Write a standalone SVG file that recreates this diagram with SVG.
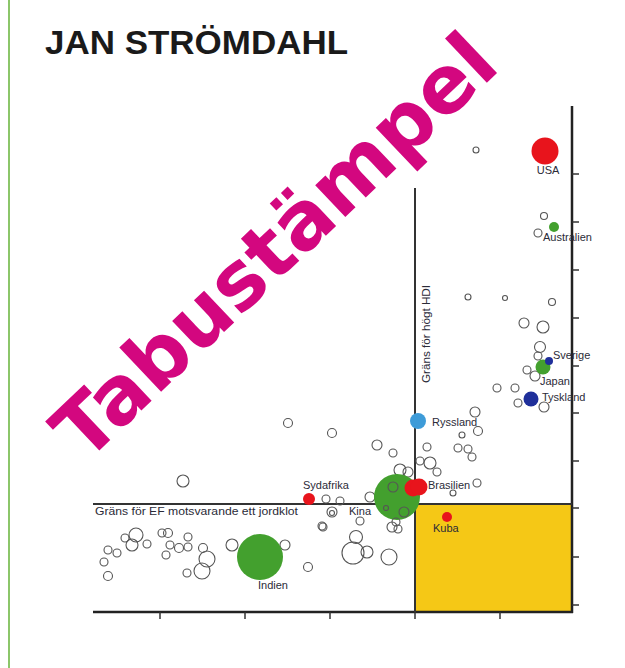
<svg xmlns="http://www.w3.org/2000/svg" width="625" height="668" viewBox="0 0 625 668">
<style>
.o{fill:none;stroke:#555;stroke-width:1.1}
.lbl{font-family:"Liberation Sans",Arial,sans-serif;font-size:11px;fill:#2b2b38}
.ax{stroke:#222;stroke-width:2.5;fill:none}
.tk{stroke:#333;stroke-width:1.5}
.red{fill:#e8141c}
.grn{fill:#43a02e}
</style>
<rect width="625" height="668" fill="#fff"/>
<line x1="9" y1="0" x2="9" y2="668" stroke="#8cc66a" stroke-width="2"/>
<text x="45" y="54" font-family="Liberation Sans,Arial,sans-serif" font-weight="bold" font-size="33" fill="#1a1a1a" textLength="303" lengthAdjust="spacingAndGlyphs">JAN STRÖMDAHL</text>

<g id="chart-frame">
<rect id="zone" x="415" y="504" width="157" height="108" fill="#f5c816" stroke="#333" stroke-width="2"/>
<line class="ax" x1="572" y1="106" x2="572" y2="613"/>
<line class="ax" x1="93" y1="612" x2="573" y2="612"/>
<line x1="415" y1="188" x2="415" y2="612" stroke="#333" stroke-width="2"/>
<line x1="93" y1="504" x2="572" y2="504" stroke="#333" stroke-width="2"/>
<g class="tk">
<line x1="160" y1="612" x2="160" y2="619"/><line x1="245" y1="612" x2="245" y2="619"/><line x1="330" y1="612" x2="330" y2="619"/><line x1="415" y1="612" x2="415" y2="619"/><line x1="500" y1="612" x2="500" y2="619"/>
<line x1="572" y1="174" x2="579" y2="174"/><line x1="572" y1="222" x2="579" y2="222"/><line x1="572" y1="270" x2="579" y2="270"/><line x1="572" y1="318" x2="579" y2="318"/><line x1="572" y1="366" x2="579" y2="366"/><line x1="572" y1="413" x2="579" y2="413"/><line x1="572" y1="461" x2="579" y2="461"/><line x1="572" y1="508" x2="579" y2="508"/><line x1="572" y1="557" x2="579" y2="557"/><line x1="572" y1="605" x2="579" y2="605"/>
</g>
<text class="lbl" x="95" y="515" font-size="12" textLength="203" lengthAdjust="spacingAndGlyphs">Gräns för EF motsvarande ett jordklot</text>
<text class="lbl" transform="translate(430,383) rotate(-90)" x="0" y="0" textLength="98" lengthAdjust="spacingAndGlyphs">Gräns för högt HDI</text>
</g>

<g id="others">
<circle class="o" cx="476" cy="150" r="3"/><circle class="o" cx="544" cy="216" r="3.5"/><circle class="o" cx="538" cy="233" r="4"/>
<circle class="o" cx="468" cy="297" r="3"/><circle class="o" cx="505" cy="298" r="2.5"/><circle class="o" cx="552" cy="302" r="3.5"/>
<circle class="o" cx="524" cy="323" r="5"/><circle class="o" cx="543" cy="327" r="6"/><circle class="o" cx="540" cy="347" r="5.5"/>
<circle class="o" cx="538" cy="356" r="4"/><circle class="o" cx="527" cy="370" r="4"/><circle class="o" cx="535" cy="376" r="5"/>
<circle class="o" cx="497" cy="388" r="4"/><circle class="o" cx="515" cy="388" r="4"/><circle class="o" cx="518" cy="403" r="4"/><circle class="o" cx="544" cy="407" r="5"/>
<circle class="o" cx="475" cy="412" r="5"/><circle class="o" cx="478" cy="431" r="4.5"/><circle class="o" cx="462" cy="435" r="3"/>
<circle class="o" cx="427" cy="447" r="4"/><circle class="o" cx="458" cy="448" r="4"/><circle class="o" cx="468" cy="449" r="4"/><circle class="o" cx="472" cy="457" r="4"/>
<circle class="o" cx="420" cy="461" r="4"/><circle class="o" cx="430" cy="463" r="6"/><circle class="o" cx="437" cy="472" r="4"/><circle class="o" cx="477" cy="483" r="4"/><circle class="o" cx="453" cy="493" r="3"/>
<circle class="o" cx="288" cy="423" r="4.5"/><circle class="o" cx="332" cy="433" r="4.5"/><circle class="o" cx="377" cy="445" r="5"/><circle class="o" cx="393" cy="453" r="4"/>
<circle class="o" cx="183" cy="481" r="6"/><circle class="o" cx="400" cy="470" r="6"/><circle class="o" cx="408" cy="472" r="5"/>
<circle class="o" cx="326" cy="499" r="4"/><circle class="o" cx="340" cy="501" r="4"/><circle class="o" cx="370" cy="497" r="5"/>
<circle class="o" cx="332" cy="512" r="5"/><circle class="o" cx="332" cy="513" r="2.5"/><circle class="o" cx="322" cy="526" r="4"/><circle class="o" cx="360" cy="521" r="4"/>
<circle class="o" cx="356" cy="537" r="6.5"/><circle class="o" cx="353" cy="553" r="11"/><circle class="o" cx="367" cy="552" r="6"/><circle class="o" cx="389" cy="557" r="8"/>
<circle class="o" cx="392" cy="527" r="5"/><circle class="o" cx="398" cy="529" r="4"/>
<circle class="o" cx="285" cy="545" r="5"/><circle class="o" cx="232" cy="545" r="6"/><circle class="o" cx="308" cy="567" r="4.5"/><circle class="o" cx="323" cy="527" r="4"/>
<circle class="o" cx="108" cy="550" r="4"/><circle class="o" cx="117" cy="553" r="4"/><circle class="o" cx="104" cy="562" r="4"/><circle class="o" cx="108" cy="576" r="4.5"/>
<circle class="o" cx="125" cy="538" r="4"/><circle class="o" cx="136" cy="535" r="7"/><circle class="o" cx="132" cy="545" r="6"/><circle class="o" cx="147" cy="544" r="4"/>
<circle class="o" cx="162" cy="533" r="4"/><circle class="o" cx="168" cy="533" r="4.5"/><circle class="o" cx="170" cy="545" r="4"/><circle class="o" cx="166" cy="555" r="4"/>
<circle class="o" cx="179" cy="548" r="4.5"/><circle class="o" cx="188" cy="537" r="4"/><circle class="o" cx="188" cy="547" r="4"/><circle class="o" cx="203" cy="548" r="4.5"/>
<circle class="o" cx="207" cy="559" r="8"/><circle class="o" cx="202" cy="571" r="8"/><circle class="o" cx="187" cy="573" r="4"/>
</g>

<g id="usa"><circle class="red" cx="545" cy="151" r="13.5"/><text class="lbl" x="548" y="174" text-anchor="middle">USA</text></g>
<g id="australien"><circle class="grn" cx="554" cy="227" r="5"/><text class="lbl" x="543" y="241">Australien</text></g>
<g id="japan"><circle class="grn" cx="543" cy="367" r="7.5"/><text class="lbl" x="540" y="385">Japan</text></g>
<g id="sverige"><circle fill="#1f2f9a" cx="549" cy="361" r="4"/><text class="lbl" x="553" y="359">Sverige</text></g>
<g id="tyskland"><circle fill="#1f2f9a" cx="531" cy="399" r="7.5"/><text class="lbl" x="542" y="401">Tyskland</text></g>
<g id="ryssland"><circle fill="#3d9bd8" cx="418" cy="421" r="8"/><text class="lbl" x="432" y="426">Ryssland</text></g>
<g id="kina"><circle class="grn" cx="397" cy="497" r="23"/>
<circle class="o" cx="393" cy="487" r="5"/><circle class="o" cx="404" cy="512" r="5"/><circle class="o" cx="386" cy="508" r="2.5"/><circle class="o" cx="396" cy="522" r="4"/>
<text class="lbl" x="349" y="515">Kina</text></g>
<g id="brasilien"><circle class="red" cx="413" cy="488" r="8.5"/><circle class="red" cx="419" cy="487" r="8.5"/><text class="lbl" x="428" y="489">Brasilien</text></g>
<g id="sydafrika"><circle class="red" cx="309" cy="499" r="6"/><text class="lbl" x="303" y="489">Sydafrika</text></g>
<g id="kuba"><circle class="red" cx="447" cy="517" r="5"/><text class="lbl" x="433" y="532">Kuba</text></g>
<g id="indien"><circle class="grn" cx="260" cy="557" r="23"/><text class="lbl" x="258" y="589">Indien</text></g>

<text x="85" y="464" transform="rotate(-43.5 85 464)" font-family="DejaVu Sans,Verdana,sans-serif" font-weight="bold" font-size="80" fill="#d3077f">Tabustämpel</text>
</svg>
